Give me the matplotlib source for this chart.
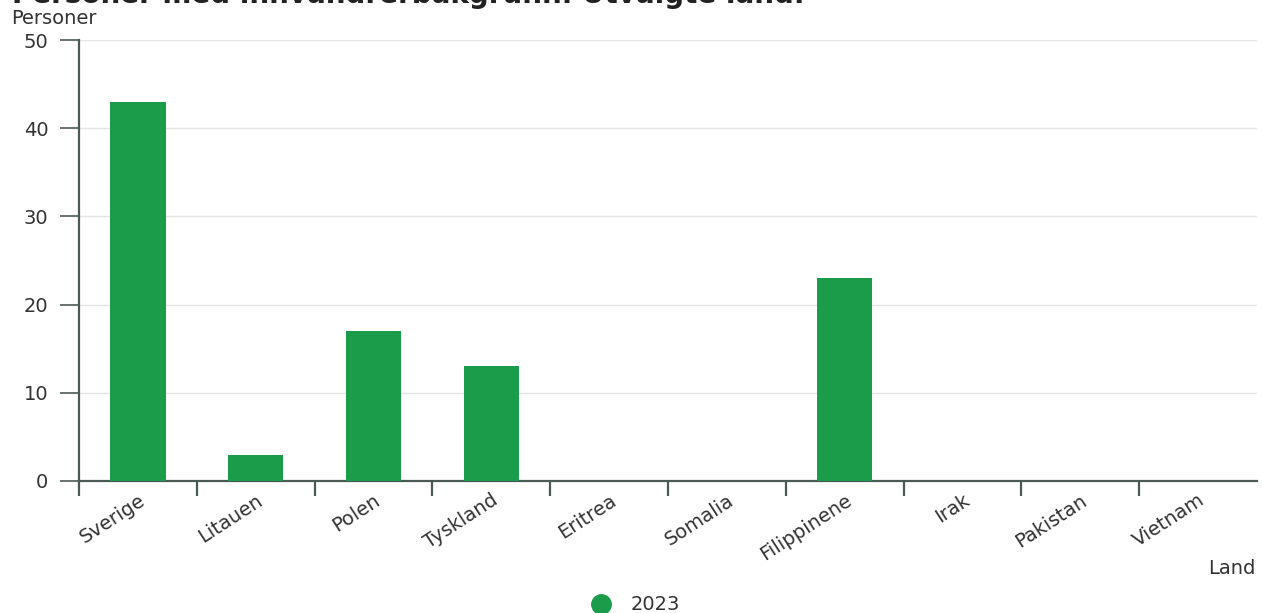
import matplotlib.pyplot as plt
import numpy as np
from matplotlib.lines import Line2D

plt.rcParams['font.family'] = ['DejaVu Sans']

land = ['Sverige', 'Litauen', 'Polen', 'Tyskland', 'Eritrea', 'Somalia',
        'Filippinene', 'Irak', 'Pakistan', 'Vietnam']
personer_2023 = [43, 3, 17, 13, 0, 0, 23, 0, 0, 0]
yticks = [0, 10, 20, 30, 40, 50]

green = '#1b9c4a'
txt = '#333333'
axis_col = '#4a5a55'

fig = plt.figure(figsize=(12.63, 6.13), dpi=100)
ax = fig.add_axes([79 / 1263, 1 - 481 / 613, (1257 - 79) / 1263, (481 - 40) / 613])

x = np.arange(len(land))
ax.bar(x, personer_2023, width=0.47, color=green, zorder=3)

ax.set_xlim(-0.5, len(land) - 0.5)
ax.set_ylim(0, 50)
ax.set_yticks(yticks)
ax.set_yticklabels([str(t) for t in yticks], fontsize=14, color=txt)
ax.grid(axis='y', color='#e3e3e3', linewidth=1, zorder=0)

# ticks on category boundaries, labels at centers
ax.set_xticks(np.arange(len(land)) - 0.5)
ax.set_xticklabels([])
ax.tick_params(axis='x', length=11, width=1.6, color=axis_col, direction='out')
ax.tick_params(axis='y', length=14, width=1.2, color=axis_col, pad=8)
for i, name in enumerate(land):
    ax.annotate(name, xy=(i, 0), xycoords=('data', 'axes fraction'),
                xytext=(0, -7), textcoords='offset points',
                rotation=33, ha='right', va='top', rotation_mode='anchor',
                fontsize=14, color=txt)

for s in ['top', 'right']:
    ax.spines[s].set_visible(False)
ax.spines['left'].set_color(axis_col)
ax.spines['left'].set_linewidth(1.6)
ax.spines['bottom'].set_color(axis_col)
ax.spines['bottom'].set_linewidth(1.6)

# title is cut at the top edge, as in the source
fig.text(12 / 1263, 1 - 3 / 613, 'Personer med innvandrerbakgrunn. Utvalgte land.',
         fontsize=20, fontweight='bold', color='#222222', va='baseline', ha='left')
fig.text(11 / 1263, 1 - 18 / 613, 'Personer', fontsize=14, color=txt, va='center', ha='left')
fig.text(1256 / 1263, 1 - 568 / 613, 'Land', fontsize=14, color=txt, va='center', ha='right')

handle = Line2D([], [], marker='o', linestyle='none', markersize=14,
                markerfacecolor=green, markeredgecolor=green)
fig.legend([handle], ['2023'], loc='center', bbox_to_anchor=(631 / 1263, 1 - 605 / 613),
           frameon=False, fontsize=14, handletextpad=0.5, labelcolor=txt)

fig.savefig('out.png', dpi=100)
